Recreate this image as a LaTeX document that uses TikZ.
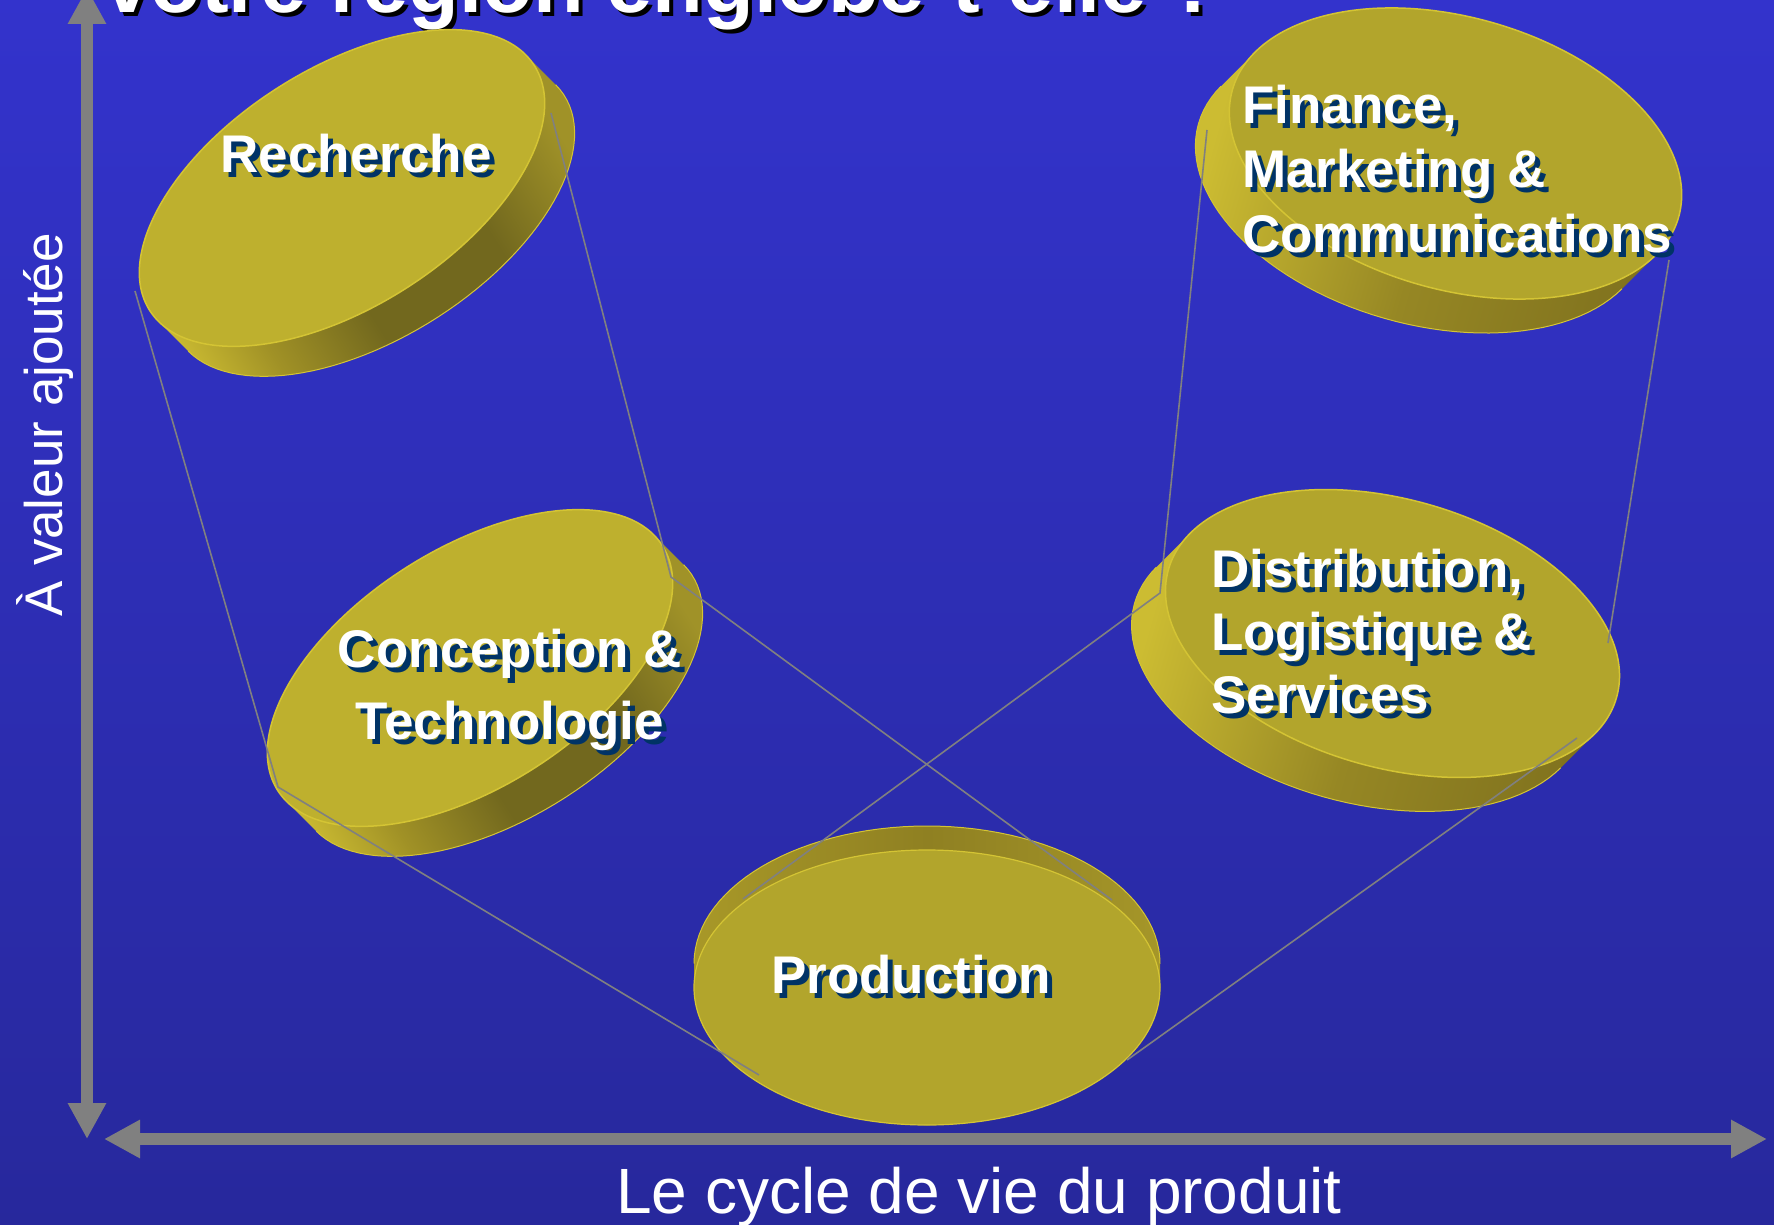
\documentclass[tikz,border=0pt]{standalone}
\usepackage{fontspec}
\setmainfont{Liberation Sans}
\usetikzlibrary{arrows.meta}
\definecolor{bgtop}{RGB}{51,51,204}
\definecolor{bgbot}{RGB}{39,40,156}
\definecolor{axisgray}{RGB}{128,128,128}
\definecolor{faceA}{RGB}{190,176,46}
\definecolor{faceB}{RGB}{178,165,44}
\definecolor{rimcol}{RGB}{212,196,52}
\definecolor{sideLight}{RGB}{204,188,50}
\definecolor{sideLightMid}{RGB}{160,145,38}
\definecolor{sideDark}{RGB}{114,104,30}
\definecolor{sideDarkB}{RGB}{128,114,30}
\definecolor{sideMid}{RGB}{160,146,40}
\definecolor{sideMidB}{RGB}{150,135,36}
\definecolor{sidePa}{RGB}{168,152,40}
\definecolor{sidePb}{RGB}{143,128,34}
\definecolor{sidePc}{RGB}{165,150,41}
\definecolor{shadowNavy}{RGB}{0,51,102}

\pgfdeclarehorizontalshading{sideshadeA}{100bp}{color(0bp)=(sideLight); color(21bp)=(sideLight); color(31bp)=(sideLightMid); color(44bp)=(sideDark); color(62bp)=(sideDark); color(76bp)=(sideMid); color(100bp)=(sideMid)}
\pgfdeclarehorizontalshading{sideshadeB}{100bp}{color(0bp)=(sideLight); color(25bp)=(sideLight); color(50bp)=(sideMidB); color(75bp)=(sideDarkB); color(100bp)=(sideDarkB)}
\pgfdeclarehorizontalshading{sideshadeP}{100bp}{color(0bp)=(sidePa); color(25bp)=(sidePa); color(50bp)=(sidePb); color(75bp)=(sidePc); color(100bp)=(sidePc)}

\tikzset{
  x=1pt, y=1pt,
  sideA/.style={shading=sideshadeA},
  sideB/.style={shading=sideshadeB},
  sideP/.style={shading=sideshadeP},
  faceStyleA/.style={fill=faceA, draw=rimcol, line width=1.5pt},
  faceStyleB/.style={fill=faceB, draw=rimcol, line width=1.5pt},
  faceStyleP/.style={fill=faceB, draw=rimcol, line width=1.2pt},
  link/.style={draw=axisgray, line width=1.6pt},
  axisline/.style={draw=axisgray, line width=11.5pt,
    {Triangle[length=36pt,width=36pt]}-{Triangle[length=36pt,width=36pt]}},
  lbl/.style={font=\fontsize{53}{64}\selectfont\bfseries, text=white, inner sep=0pt},
  lblsh/.style={lbl, text=shadowNavy},
  axlbl/.style={text=white, inner sep=0pt},
}

% #1 name, #2 cx, #3 cy (image px, y down), #4 a, #5 b, #6 angle, #7 vx, #8 vy (image), #9 style suffix
\newcommand{\diskshape}[9]{%
  \pgfmathsetmacro\dvx{(#7)*cos(#6)-(#8)*sin(#6)}%
  \pgfmathsetmacro\dvy{-(#7)*sin(#6)-(#8)*cos(#6)}%
  \pgfmathsetmacro\dta{atan2(-(#5)*\dvx,(#4)*\dvy)+180}%
  \pgfmathsetmacro\dtb{\dta+180}%
  \pgfmathsetmacro\dtc{\dta+360}%
  \shade[side#9, shading angle=#6]
    plot[domain=\dta:\dtb, samples=61, variable=\t]
      ({#2+#4*cos(\t)*cos(#6)-#5*sin(\t)*sin(#6)}, {-#3+#4*cos(\t)*sin(#6)+#5*sin(\t)*cos(#6)})
    -- plot[domain=\dtb:\dtc, samples=61, variable=\t]
      ({#2+#7+#4*cos(\t)*cos(#6)-#5*sin(\t)*sin(#6)}, {-#3-#8+#4*cos(\t)*sin(#6)+#5*sin(\t)*cos(#6)})
    -- cycle;
  \draw[rimcol, line width=1pt]
    plot[domain=\dtb:\dtc, samples=61, variable=\t]
      ({#2+#7+#4*cos(\t)*cos(#6)-#5*sin(\t)*sin(#6)}, {-#3-#8+#4*cos(\t)*sin(#6)+#5*sin(\t)*cos(#6)});
  \path[faceStyle#9, shift={(#2,-#3)}, rotate=#6] (0,0) ellipse[x radius=#4pt, y radius=#5pt];
  \coordinate (#1) at (#2,-#3);
}

\begin{document}
\begin{tikzpicture}
\useasboundingbox (0,0) rectangle (1774,-1225);
\clip (0,0) rectangle (1774,-1225);
\shade[top color=bgtop, bottom color=bgbot] (0,0) rectangle (1774,-1225);

% title (cut by the top edge)
\node[anchor=base west, inner sep=0pt, text=black, font=\fontsize{83}{90}\selectfont\bfseries] (titlesh) at (108,-17) {votre région englobe-t-elle ?};
\node[anchor=base west, inner sep=0pt, text=white, font=\fontsize{83}{90}\selectfont\bfseries] (title) at (104,-13) {votre région englobe-t-elle ?};

% axes
\coordinate (ytop) at (87,12);
\coordinate (ybot) at (87,-1139);
\coordinate (xleft) at (104,-1139);
\coordinate (xright) at (1767,-1139);
\draw[axisline] (ybot) -- (ytop);
\draw[axisline] (xleft) -- (xright);

\node[axlbl, rotate=90, anchor=base, font=\fontsize{53}{60}\selectfont] (ylabel) at (62,-424.5) {À valeur ajoutée};
\node[axlbl, anchor=base, font=\fontsize{64}{70}\selectfont] (xlabel) at (979,-1213) {Le cycle de vie du produit};

% disks
\diskshape{rech}{342}{188}{228}{119}{32.5}{30}{30}{A}
\diskshape{conc}{470}{668}{228}{119}{32.5}{30}{30}{A}
\diskshape{fin}{1455.5}{153.5}{232}{136}{-16}{-34}{34}{B}
\diskshape{dist}{1392.5}{633.5}{233}{134}{-16}{-34}{34}{B}
\diskshape{prod}{927}{987.5}{233}{137.5}{0}{0}{-24}{P}

% connectors
\coordinate (l1a) at (135,-291);
\coordinate (l1b) at (278,-787);
\coordinate (l1c) at (759,-1075);
\coordinate (l2a) at (551,-113);
\coordinate (l2b) at (671,-577);
\coordinate (l2c) at (1112,-900);
\coordinate (l3a) at (1207,-130);
\coordinate (l3b) at (1160,-593);
\coordinate (l3c) at (743,-899);
\coordinate (l4a) at (1669,-260);
\coordinate (l4b) at (1608,-643);
\coordinate (l5a) at (1577,-738);
\coordinate (l5b) at (1127,-1060);
\draw[link] (l1a) -- (l1b) -- (l1c);
\draw[link] (l2a) -- (l2b) -- (l2c);
\draw[link] (l3a) -- (l3b) -- (l3c);
\draw[link] (l4a) -- (l4b);
\draw[link] (l5a) -- (l5b);

% labels (multi-line nodes: base anchor = baseline of the last line)
\node[lblsh, anchor=base] (rechtsh) at (361,-178) {Recherche};
\node[lbl, anchor=base] (rechtxt) at (356,-173) {Recherche};

\node[lblsh, anchor=base, align=center, font=\fontsize{53}{72}\selectfont\bfseries] (conctsh) at (515,-744) {Conception \&\\Technologie};
\node[lbl, anchor=base, align=center, font=\fontsize{53}{72}\selectfont\bfseries] (conctxt) at (510,-739) {Conception \&\\Technologie};

\node[lblsh, anchor=base west, align=left, font=\fontsize{53}{64.5}\selectfont\bfseries] (fintsh) at (1247,-257) {Finance,\\Marketing \&\\Communications};
\node[lbl, anchor=base west, align=left, font=\fontsize{53}{64.5}\selectfont\bfseries] (fintxt) at (1242,-252) {Finance,\\Marketing \&\\Communications};

\node[lblsh, anchor=base west, align=left, font=\fontsize{53}{63}\selectfont\bfseries] (disttsh) at (1216,-718) {Distribution,\\Logistique \&\\Services};
\node[lbl, anchor=base west, align=left, font=\fontsize{53}{63}\selectfont\bfseries] (disttxt) at (1211,-713) {Distribution,\\Logistique \&\\Services};

\node[lblsh, anchor=base] (prodtsh) at (916,-998) {Production};
\node[lbl, anchor=base] (prodtxt) at (911,-993) {Production};
\end{tikzpicture}
\end{document}
